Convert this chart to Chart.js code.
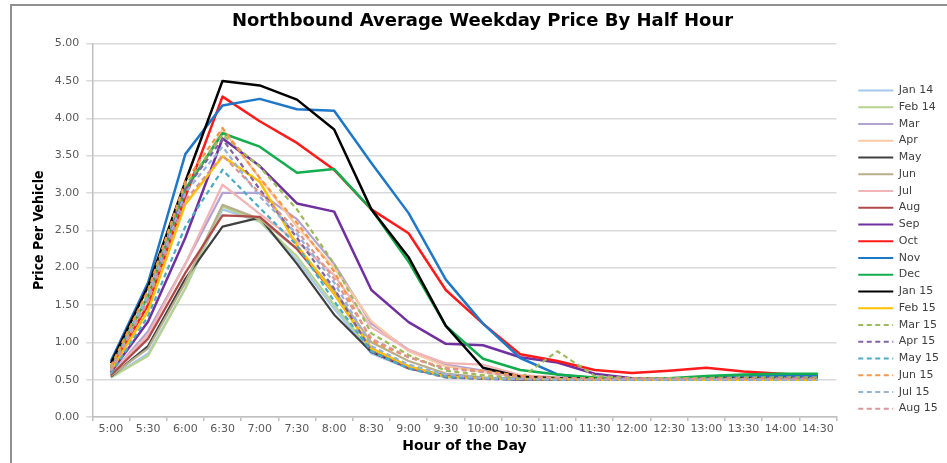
<!DOCTYPE html>
<html>
<head>
<meta charset="utf-8">
<script src="https://cdn.jsdelivr.net/npm/chart.js@4.4.1/dist/chart.umd.min.js"></script>
<style>
  html, body { margin: 0; padding: 0; background: #fff; overflow: hidden; }
  #frame { position: absolute; left: 10px; top: 4px; width: 1000px; height: 520px; border: 2px solid #909090; }
  #wrap { position: absolute; left: 0; top: 0; width: 935px; height: 457px; }
</style>
</head>
<body>
<div id="frame"><div id="wrap"><canvas id="priceChart"></canvas></div></div>
<script>
const hours = ['5:00', '5:30', '6:00', '6:30', '7:00', '7:30', '8:00', '8:30', '9:00', '9:30',
               '10:00', '10:30', '11:00', '11:30', '12:00', '12:30', '13:00', '13:30', '14:00', '14:30'];

const seriesNames = ['Jan 14', 'Feb 14', 'Mar', 'Apr', 'May', 'Jun', 'Jul', 'Aug', 'Sep', 'Oct', 'Nov', 'Dec',
                     'Jan 15', 'Feb 15', 'Mar 15', 'Apr 15', 'May 15', 'Jun 15', 'Jul 15', 'Aug 15'];

// price per vehicle, one value per half hour
const jan14 = [0.53, 0.85, 1.72, 2.78, 2.62, 2.10, 1.45, 0.85, 0.65, 0.53, 0.51, 0.50, 0.50, 0.50, 0.50, 0.50, 0.50, 0.50, 0.50, 0.50];
const feb14 = [0.53, 0.82, 1.72, 2.82, 2.62, 2.15, 1.50, 0.88, 0.68, 0.55, 0.52, 0.51, 0.50, 0.50, 0.50, 0.50, 0.50, 0.51, 0.51, 0.51];
const mar   = [0.57, 1.15, 2.05, 3.00, 3.00, 2.65, 2.05, 1.25, 0.90, 0.70, 0.62, 0.55, 0.53, 0.52, 0.51, 0.51, 0.51, 0.51, 0.52, 0.52];
const apr   = [0.62, 1.55, 3.00, 3.85, 3.20, 2.55, 2.00, 1.28, 0.88, 0.68, 0.60, 0.53, 0.52, 0.51, 0.50, 0.50, 0.50, 0.50, 0.50, 0.50];
const may   = [0.54, 0.95, 1.85, 2.55, 2.67, 2.05, 1.37, 0.87, 0.66, 0.55, 0.52, 0.50, 0.50, 0.50, 0.50, 0.50, 0.50, 0.50, 0.50, 0.50];
const jun   = [0.55, 0.92, 1.80, 2.84, 2.65, 2.25, 1.70, 1.00, 0.75, 0.58, 0.53, 0.51, 0.50, 0.50, 0.50, 0.50, 0.50, 0.50, 0.50, 0.50];
const jul   = [0.58, 1.10, 2.05, 3.11, 2.72, 2.35, 1.90, 1.20, 0.90, 0.72, 0.70, 0.56, 0.53, 0.52, 0.51, 0.51, 0.51, 0.51, 0.51, 0.51];
const aug   = [0.56, 1.05, 1.93, 2.70, 2.68, 2.25, 1.65, 0.92, 0.65, 0.55, 0.52, 0.51, 0.50, 0.50, 0.50, 0.50, 0.50, 0.50, 0.50, 0.50];
const sep   = [0.60, 1.28, 2.40, 3.73, 3.36, 2.86, 2.75, 1.70, 1.27, 0.98, 0.96, 0.80, 0.73, 0.58, 0.52, 0.51, 0.53, 0.54, 0.55, 0.55];
const oct   = [0.65, 1.50, 2.95, 4.29, 3.96, 3.67, 3.31, 2.78, 2.46, 1.70, 1.25, 0.84, 0.75, 0.63, 0.59, 0.62, 0.66, 0.61, 0.58, 0.55];
const nov   = [0.75, 1.80, 3.52, 4.17, 4.26, 4.12, 4.10, 3.40, 2.73, 1.84, 1.25, 0.79, 0.57, 0.52, 0.50, 0.51, 0.52, 0.54, 0.56, 0.55];
const dec   = [0.68, 1.62, 3.05, 3.80, 3.62, 3.27, 3.32, 2.78, 2.08, 1.22, 0.78, 0.63, 0.57, 0.53, 0.50, 0.52, 0.55, 0.57, 0.58, 0.58];
const jan15 = [0.72, 1.75, 3.15, 4.50, 4.44, 4.25, 3.85, 2.78, 2.14, 1.22, 0.66, 0.54, 0.52, 0.51, 0.50, 0.50, 0.51, 0.52, 0.52, 0.52];
const feb15 = [0.62, 1.42, 2.85, 3.49, 3.15, 2.30, 1.65, 0.92, 0.68, 0.54, 0.52, 0.51, 0.51, 0.50, 0.50, 0.50, 0.50, 0.50, 0.50, 0.50];
const mar15 = [0.65, 1.65, 3.10, 3.78, 3.35, 2.78, 2.05, 1.12, 0.83, 0.62, 0.56, 0.52, 0.88, 0.55, 0.52, 0.52, 0.52, 0.53, 0.53, 0.53];
const apr15 = [0.62, 1.60, 3.05, 3.72, 3.05, 2.40, 1.72, 0.88, 0.65, 0.53, 0.51, 0.50, 0.50, 0.50, 0.50, 0.50, 0.51, 0.51, 0.52, 0.52];
const may15 = [0.58, 1.35, 2.55, 3.31, 2.80, 2.30, 1.55, 0.88, 0.65, 0.54, 0.52, 0.51, 0.50, 0.50, 0.50, 0.50, 0.50, 0.50, 0.50, 0.50];
const jun15 = [0.68, 1.70, 3.15, 3.87, 3.20, 2.60, 1.95, 1.02, 0.80, 0.65, 0.62, 0.55, 0.52, 0.52, 0.51, 0.51, 0.51, 0.51, 0.51, 0.51];
const jul15 = [0.63, 1.62, 3.00, 3.62, 2.95, 2.45, 1.80, 0.95, 0.70, 0.57, 0.52, 0.51, 0.50, 0.50, 0.50, 0.50, 0.50, 0.50, 0.50, 0.50];
const aug15 = [0.62, 1.55, 2.90, 3.50, 3.00, 2.50, 1.85, 1.05, 0.80, 0.65, 0.60, 0.53, 0.52, 0.51, 0.51, 0.51, 0.51, 0.51, 0.51, 0.51];

const seriesData = [jan14, feb14, mar, apr, may, jun, jul, aug, sep, oct, nov, dec,
                    jan15, feb15, mar15, apr15, may15, jun15, jul15, aug15];

// colour, line width, dashed?
const seriesStyle = [
    ['#a6c8ea', 2.25, false], ['#b5d38f', 2.25, false], ['#b3a2d3', 2.25, false], ['#fac8a4', 2.25, false],
    ['#404040', 2.25, false], ['#b8ae8b', 2.25, false], ['#f2b5b5', 2.25, false], ['#b04a4a', 2.25, false],
    ['#7030a0', 2.5, false], ['#ff1a1a', 2.5, false], ['#1f77c8', 2.5, false], ['#12ad4c', 2.5, false],
    ['#000000', 2.5, false], ['#ffc000', 2.5, false],
    ['#9bbb59', 2.25, true], ['#8064a2', 2.25, true], ['#4bacc6', 2.25, true],
    ['#f79646', 2.25, true], ['#95b3d7', 2.25, true], ['#d99694', 2.25, true]
];

// later series sit on top, like the spreadsheet; legend is flipped back
const datasets = seriesNames.map((name, i) => ({
    label: name,
    data: seriesData[i],
    borderColor: seriesStyle[i][0],
    backgroundColor: seriesStyle[i][0],
    borderWidth: seriesStyle[i][1],
    borderDash: seriesStyle[i][2] ? [5, 3.5] : [],
    borderJoinStyle: 'round',
    pointRadius: 0,
    tension: 0,
    fill: false
})).reverse();

// small position tweaks for legend and title after Chart.js lays things out
const nudge = {
    id: 'nudge',
    afterLayout(chart) {
        const lg = chart.legend;
        lg.left += 16; lg.right += 16;
        lg.top += 19; lg.bottom += 19;
        const tb = chart.titleBlock;
        tb.left += 10; tb.right += 10;
    }
};

Chart.defaults.font.family = "'DejaVu Sans', sans-serif";

const ctx = document.getElementById('priceChart').getContext('2d');
new Chart(ctx, {
    type: 'line',
    data: { labels: hours, datasets: datasets },
    plugins: [nudge],
    options: {
        responsive: true,
        maintainAspectRatio: false,
        animation: false,
        layout: { padding: { left: 0, right: 14, top: 0, bottom: 8 } },
        plugins: {
            tooltip: { enabled: false },
            title: {
                display: true,
                text: 'Northbound Average Weekday Price By Half Hour',
                color: '#000',
                font: { size: 18, weight: 'bold' },
                padding: { top: 5, bottom: 11 }
            },
            legend: {
                position: 'right',
                reverse: true,
                labels: {
                    usePointStyle: true,
                    pointStyle: 'line',
                    pointStyleWidth: 35,
                    color: '#404040',
                    font: { size: 11 },
                    padding: 5.75,
                    // use the line's own colour, width and dash for each key
                    generateLabels: chart => chart.data.datasets.map((ds, i) => ({
                        text: ds.label,
                        fillStyle: ds.borderColor,
                        strokeStyle: ds.borderColor,
                        lineWidth: 2,
                        lineDash: ds.borderDash,
                        pointStyle: 'line',
                        fontColor: '#404040',
                        hidden: false,
                        datasetIndex: i
                    }))
                }
            }
        },
        scales: {
            x: {
                offset: true,
                grid: { display: true, drawOnChartArea: false, offset: true, tickLength: 4, color: '#bfbfbf', lineWidth: 1.5 },
                border: { display: true, color: '#bfbfbf', width: 1.5 },
                ticks: { color: '#595959', font: { size: 11 }, padding: 2, autoSkip: false, maxRotation: 0 },
                title: {
                    display: true,
                    text: 'Hour of the Day',
                    color: '#000',
                    font: { size: 14, weight: 'bold' },
                    padding: { top: 0, bottom: 0 }
                }
            },
            y: {
                min: 0,
                max: 5,
                grid: { color: '#d9d9d9', lineWidth: 1.5, tickLength: 6 },
                border: { display: true, color: '#bfbfbf', width: 1.5 },
                ticks: {
                    stepSize: 0.5,
                    color: '#595959',
                    font: { size: 11 },
                    padding: 7,
                    callback: v => v.toFixed(2)
                },
                title: {
                    display: true,
                    text: 'Price Per Vehicle',
                    color: '#000',
                    font: { family: "'DejaVu Sans Condensed', 'DejaVu Sans', sans-serif", size: 14, weight: 'bold' },
                    padding: { top: 19, bottom: 0 }
                }
            }
        }
    }
});
</script>
</body>
</html>
